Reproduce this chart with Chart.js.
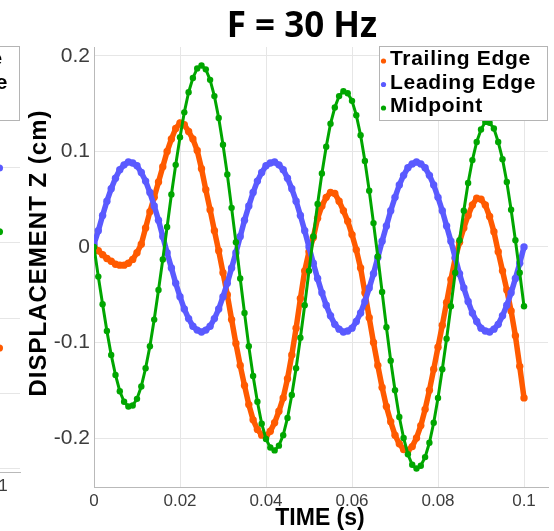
<!DOCTYPE html>
<html><head><meta charset="utf-8">
<script src="https://cdn.jsdelivr.net/npm/chart.js@4.4.0/dist/chart.umd.min.js"></script>
<style>
html,body{margin:0;padding:0;background:#fff;overflow:hidden;}
#wrap{position:relative;width:554px;height:531px;overflow:hidden;background:#fff;}
#frag{position:absolute;left:-528px;top:0;}
#main{position:absolute;left:0;top:0;}
</style></head><body>
<div id="wrap">
<canvas id="frag" width="554" height="531"></canvas>
<canvas id="main" width="554" height="531"></canvas>
</div>
<script>
// ---------- data ----------
const TITLE = 'F = 30 Hz';
const X_TITLE = 'TIME (s)';
const Y_TITLE = 'DISPLACEMENT Z (cm)';
const SERIES_LABELS = ['Trailing Edge', 'Leading Edge', 'Midpoint'];
const X_TICKS = [0, 0.02, 0.04, 0.06, 0.08, 0.1];
const X_TICK_LABELS = ['0', '0.02', '0.04', '0.06', '0.08', '0.1'];
const Y_TICKS = [-0.2, -0.1, 0, 0.1, 0.2];
const Y_TICK_LABELS = ['-0.2', '-0.1', '0', '0.1', '0.2'];

const TIME_MS = [0,1,2,3,4,5,6,7,8,9,10,11,12,13,14,15,16,17,18,19,20,21,22,23,24,25,26,27,28,29,30,31,32,33,34,35,36,37,38,39,40,41,42,43,44,45,46,47,48,49,50,51,52,53,54,55,56,57,58,59,60,61,62,63,64,65,66,67,68,69,70,71,72,73,74,75,76,77,78,79,80,81,82,83,84,85,86,87,88,89,90,91,92,93,94,95,96,97,98,99,100];

const TRAILING_EDGE = [0.000,-0.004,-0.008,-0.012,-0.015,-0.018,-0.019,-0.019,-0.017,-0.013,
-0.006,0.003,0.020,0.037,0.052,0.068,0.084,0.100,0.113,0.124,
0.130,0.128,0.121,0.113,0.101,0.082,0.060,0.039,0.017,-0.004,
-0.027,-0.050,-0.076,-0.101,-0.124,-0.145,-0.165,-0.181,-0.191,-0.197,
-0.198,-0.193,-0.184,-0.172,-0.158,-0.138,-0.113,-0.085,-0.054,-0.025,
-0.005,0.010,0.030,0.043,0.052,0.057,0.056,0.048,0.038,0.027,
0.013,-0.003,-0.022,-0.048,-0.074,-0.100,-0.124,-0.147,-0.167,-0.183,
-0.197,-0.206,-0.212,-0.213,-0.209,-0.200,-0.187,-0.170,-0.150,-0.128,
-0.105,-0.082,-0.058,-0.034,-0.012,0.005,0.020,0.033,0.044,0.051,
0.050,0.044,0.032,0.016,-0.005,-0.025,-0.045,-0.067,-0.093,-0.125,
-0.158];

const LEADING_EDGE = [0.003,0.017,0.033,0.048,0.061,0.072,0.081,0.086,0.089,0.088,
0.085,0.078,0.069,0.057,0.043,0.028,0.011,-0.006,-0.022,-0.038,
-0.052,-0.065,-0.075,-0.083,-0.087,-0.089,-0.087,-0.083,-0.075,-0.065,
-0.052,-0.038,-0.022,-0.006,0.011,0.028,0.043,0.057,0.069,0.078,
0.085,0.088,0.089,0.086,0.081,0.072,0.061,0.048,0.033,0.017,
0.000,-0.017,-0.033,-0.048,-0.061,-0.072,-0.081,-0.086,-0.089,-0.088,
-0.085,-0.078,-0.069,-0.057,-0.043,-0.028,-0.011,0.006,0.022,0.038,
0.052,0.065,0.075,0.083,0.087,0.089,0.087,0.083,0.075,0.065,
0.052,0.038,0.022,0.006,-0.011,-0.028,-0.043,-0.057,-0.069,-0.078,
-0.085,-0.088,-0.089,-0.086,-0.081,-0.072,-0.061,-0.048,-0.033,-0.017,
0.000];

const MIDPOINT = [0.000,-0.031,-0.060,-0.088,-0.113,-0.134,-0.151,-0.162,-0.167,-0.166,
-0.159,-0.146,-0.127,-0.104,-0.076,-0.045,-0.013,0.021,0.055,0.086,
0.115,0.141,0.162,0.177,0.187,0.190,0.186,0.175,0.158,0.135,
0.107,0.076,0.041,0.005,-0.033,-0.069,-0.104,-0.135,-0.162,-0.185,
-0.201,-0.210,-0.213,-0.208,-0.197,-0.179,-0.155,-0.127,-0.095,-0.061,
-0.025,0.011,0.045,0.077,0.105,0.129,0.146,0.158,0.163,0.161,
0.153,0.138,0.117,0.090,0.059,0.025,-0.010,-0.047,-0.084,-0.119,
-0.150,-0.178,-0.200,-0.217,-0.228,-0.232,-0.229,-0.220,-0.205,-0.184,
-0.158,-0.128,-0.096,-0.062,-0.027,0.007,0.038,0.067,0.091,0.110,
0.123,0.131,0.130,0.124,0.110,0.092,0.068,0.039,0.007,-0.027,
-0.062];

// neighbouring (cut-off) panel on the left: only its last points are visible
const PREV_Y_TICKS = [-0.2, -0.1, 0, 0.1, 0.2, 0.3];
const PREV_END_TIME = [0.1008];
const PREV_TRAILING = [-0.04];
const PREV_LEADING = [0.2];
const PREV_MIDPOINT = [0.115];

// ---------- styles ----------
const COLORS = ['#ff5a00', '#5a5aff', '#00a600'];

function toXY(tms, vals) { return tms.map((t, i) => ({ x: t / 1000, y: vals[i] })); }
function toXYs(ts, vals) { return ts.map((t, i) => ({ x: t, y: vals[i] })); }

function mkDecor(o) {
  return {
    id: 'decor',
    afterDraw(chart) {
      const ctx = chart.ctx, ca = chart.chartArea;
      ctx.save();
      ctx.fillStyle = '#000';
      if (o.title) {
        ctx.font = 'bold 35px "Open Sans", "Liberation Sans", sans-serif';
        ctx.textAlign = 'center'; ctx.textBaseline = 'alphabetic';
        ctx.fillText(o.title, 302, 37);
      }
      if (o.xTitle) {
        ctx.font = 'bold 23px "Liberation Sans", sans-serif';
        ctx.textAlign = 'center'; ctx.textBaseline = 'alphabetic';
        ctx.fillText(o.xTitle, 320, 525);
      }
      if (o.yTitle) {
        ctx.save();
        ctx.translate(39, 253);
        ctx.rotate(-Math.PI / 2);
        ctx.font = 'bold 24px "Liberation Sans", sans-serif';
        ctx.letterSpacing = '1px';
        ctx.textAlign = 'center'; ctx.textBaseline = 'middle';
        ctx.fillText(o.yTitle, 0, 0);
        ctx.restore();
      }
      // legend box inside the plot, top right
      const bw = 168, bh = 74;
      const bx = ca.right - bw - 1, by = 46;
      ctx.fillStyle = '#fff';
      ctx.fillRect(bx, by, bw, bh);
      ctx.strokeStyle = '#b4b4b4'; ctx.lineWidth = 1;
      ctx.strokeRect(bx + 0.5, by + 0.5, bw, bh);
      ctx.font = 'bold 21px "Liberation Sans", sans-serif';
      ctx.letterSpacing = '0.7px';
      ctx.textAlign = 'left'; ctx.textBaseline = 'alphabetic';
      SERIES_LABELS.forEach((lab, i) => {
        const base = by + 19 + i * 23.5;
        ctx.fillStyle = COLORS[i];
        ctx.beginPath(); ctx.arc(bx + 4.5, base - 4, 2.6, 0, Math.PI * 2); ctx.fill();
        ctx.fillStyle = '#000';
        ctx.fillText(lab, bx + 11, base);
      });
      ctx.restore();
    }
  };
}

function scaleOpts(ticks, labels, min, max, size, fitProp, fitVal, pad) {
  return {
    type: 'linear', min: min, max: max,
    afterBuildTicks: s => { s.ticks = ticks.map(v => ({ value: v })); },
    afterFit: s => { s[fitProp] = fitVal; },
    grid: { color: '#e6e6e6', lineWidth: 1, drawTicks: false },
    border: { color: '#b9b9b9', width: 1 },
    ticks: {
      padding: pad, autoSkip: false, maxRotation: 0, color: '#3c3c3c',
      font: { family: '"Liberation Sans", sans-serif', size: size },
      callback: (v, i) => labels[i]
    }
  };
}

function dsLine(label, data, color, lw, r) {
  return {
    label: label, data: data, showLine: true,
    borderColor: color, backgroundColor: color, borderWidth: lw,
    pointRadius: r, pointHoverRadius: r, pointBorderWidth: 0,
    pointBackgroundColor: color, tension: 0
  };
}

// main panel (dataset 0 is drawn on top)
new Chart(document.getElementById('main'), {
  type: 'scatter',
  data: {
    datasets: [
      dsLine(SERIES_LABELS[2], toXY(TIME_MS, MIDPOINT), COLORS[2], 3, 3.2),
      dsLine(SERIES_LABELS[1], toXY(TIME_MS, LEADING_EDGE), COLORS[1], 5.5, 3.7),
      dsLine(SERIES_LABELS[0], toXY(TIME_MS, TRAILING_EDGE), COLORS[0], 5.5, 3.7)
    ]
  },
  options: {
    responsive: false, animation: false, devicePixelRatio: 1,
    layout: { padding: { top: 47, right: 6, left: 0, bottom: 0 } },
    plugins: { legend: { display: false }, tooltip: { enabled: false }, title: { display: false } },
    scales: {
      x: scaleOpts(X_TICKS, X_TICK_LABELS, 0, 0.10558, 17, 'height', 44, 4),
      y: scaleOpts(Y_TICKS, Y_TICK_LABELS, -0.2513, 0.2094, 21, 'width', 94, 4)
    }
  },
  plugins: [mkDecor({ title: TITLE, xTitle: X_TITLE, yTitle: Y_TITLE })]
});

// cut-off neighbouring panel
new Chart(document.getElementById('frag'), {
  type: 'scatter',
  data: {
    datasets: [
      dsLine(SERIES_LABELS[2], toXYs(PREV_END_TIME, PREV_MIDPOINT), COLORS[2], 3, 3.6),
      dsLine(SERIES_LABELS[1], toXYs(PREV_END_TIME, PREV_LEADING), COLORS[1], 6, 3.6),
      dsLine(SERIES_LABELS[0], toXYs(PREV_END_TIME, PREV_TRAILING), COLORS[0], 6, 3.6)
    ]
  },
  options: {
    responsive: false, animation: false, devicePixelRatio: 1,
    layout: { padding: { top: 47, right: 6, left: 0, bottom: 0 } },
    plugins: { legend: { display: false }, tooltip: { enabled: false } },
    scales: {
      x: scaleOpts(X_TICKS, X_TICK_LABELS, 0, 0.10558, 17, 'height', 59, 4),
      y: scaleOpts(PREV_Y_TICKS, PREV_Y_TICKS.map(String), -0.2053, 0.3613, 21, 'width', 94, 4)
    }
  },
  plugins: [mkDecor({})]
});
</script>
</body></html>
